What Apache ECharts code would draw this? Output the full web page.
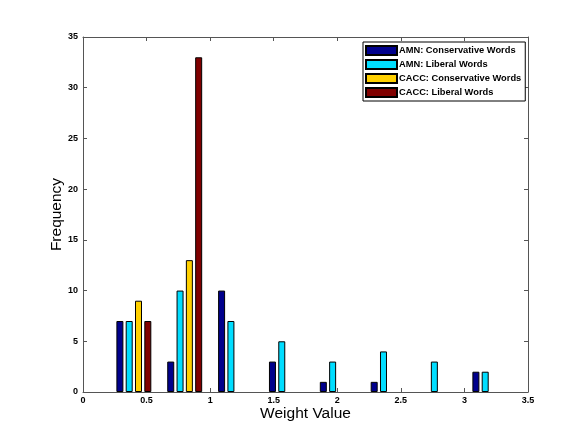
<!DOCTYPE html>
<html>
<head>
<meta charset="utf-8">
<script src="https://cdn.jsdelivr.net/npm/echarts@6/dist/echarts.min.js"></script>
<style>
html,body{margin:0;padding:0;background:#fff;}
#chart{width:576px;height:436px;}
</style>
</head>
<body>
<div id="chart"></div>
<script>
const xCenters = [0.4, 0.8, 1.2, 1.6, 2.0, 2.4, 2.8, 3.2];
const amnConservative = [7, 3, 10, 3, 1, 1, 0, 2];
const amnLiberal = [7, 10, 7, 5, 3, 4, 3, 2];
const caccConservative = [9, 13, 0, 0, 0, 0, 0, 0];
const caccLiberal = [7, 33, 0, 0, 0, 0, 0, 0];
const seriesNames = ['AMN: Conservative Words', 'AMN: Liberal Words', 'CACC: Conservative Words', 'CACC: Liberal Words'];
const seriesColors = ['#00008C', '#00DDFF', '#FFD000', '#800000'];
const xTicks = { min: 0, max: 3.5, interval: 0.5 };
const yTicks = { min: 0, max: 35, interval: 5 };

const FONT = 'Liberation Sans, Arial, Helvetica, sans-serif';
const allValues = [amnConservative, amnLiberal, caccConservative, caccLiberal];

const chart = echarts.init(document.getElementById('chart'), null, { renderer: 'canvas' });

const axisLineStyle = { color: '#555', width: 1 };
const tickLabel = { fontFamily: FONT, fontSize: 9, fontWeight: 'bold', color: '#000' };

chart.setOption({
  backgroundColor: '#fff',
  animation: false,
  textStyle: { fontFamily: FONT },
  grid: { left: 83, top: 37, right: 48, bottom: 44, containLabel: false },
  legend: {
    orient: 'vertical',
    left: 363,
    top: 42,
    itemWidth: 31,
    itemHeight: 9,
    itemGap: 3,
    padding: [3, 4, 3, 2],
    backgroundColor: '#fff',
    borderColor: '#000',
    borderWidth: 1,
    borderRadius: 0,
    icon: 'rect',
    data: seriesNames,
    textStyle: { fontFamily: FONT, fontSize: 9.3, fontWeight: 'bold', color: '#000', padding: [0, 0, 0, -3] }
  },
  xAxis: [
    {
      type: 'value', position: 'bottom',
      min: xTicks.min, max: xTicks.max, interval: xTicks.interval,
      name: 'Weight Value', nameLocation: 'middle', nameGap: 14, nameMoveOverlap: false,
      nameTextStyle: { fontFamily: FONT, fontSize: 15.5, color: '#000', verticalAlign: 'top' },
      axisLine: { show: true, onZero: false, lineStyle: axisLineStyle },
      axisTick: { show: true, inside: true, length: 4, lineStyle: axisLineStyle },
      axisLabel: Object.assign({ margin: 4 }, tickLabel),
      splitLine: { show: false }
    },
    {
      type: 'value', position: 'top',
      min: xTicks.min, max: xTicks.max, interval: xTicks.interval,
      axisLine: { show: true, onZero: false, lineStyle: axisLineStyle },
      axisTick: { show: true, inside: true, length: 4, lineStyle: axisLineStyle },
      axisLabel: { show: false },
      splitLine: { show: false }
    }
  ],
  yAxis: [
    {
      type: 'value', position: 'left',
      min: yTicks.min, max: yTicks.max, interval: yTicks.interval,
      name: 'Frequency', nameLocation: 'middle', nameGap: 18, nameMoveOverlap: false,
      nameTextStyle: { fontFamily: FONT, fontSize: 15.5, color: '#000' },
      axisLine: { show: true, onZero: false, lineStyle: axisLineStyle },
      axisTick: { show: true, inside: true, length: 4, lineStyle: axisLineStyle },
      axisLabel: Object.assign({ margin: 5 }, tickLabel),
      splitLine: { show: false }
    },
    {
      type: 'value', position: 'right',
      min: yTicks.min, max: yTicks.max, interval: yTicks.interval,
      axisLine: { show: true, onZero: false, lineStyle: axisLineStyle },
      axisTick: { show: true, inside: true, length: 4, lineStyle: axisLineStyle },
      axisLabel: { show: false },
      splitLine: { show: false }
    }
  ],
  series: seriesNames.map((name, s) => ({
    name: name,
    type: 'bar',
    xAxisIndex: 0,
    yAxisIndex: 0,
    barWidth: 7,
    barGap: '33%',
    itemStyle: { color: seriesColors[s], borderColor: '#000', borderWidth: 1 },
    data: xCenters.map((x, i) => [x, allValues[s][i] === 0 ? null : allValues[s][i]])
  }))
});
</script>
</body>
</html>
